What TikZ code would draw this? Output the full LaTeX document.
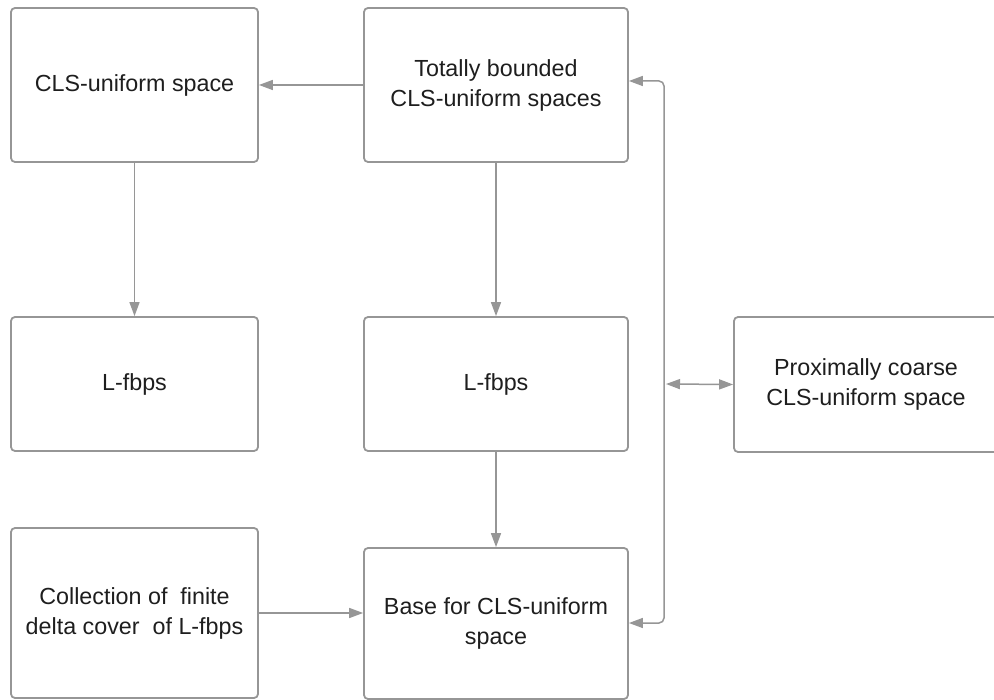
\documentclass[tikz,border=0pt]{standalone}
\usepackage{fontspec}
\setmainfont{Liberation Sans}
\usetikzlibrary{arrows.meta}
\definecolor{lineg}{RGB}{150,150,150}
\definecolor{txt}{RGB}{30,30,30}
\begin{document}
\begin{tikzpicture}[x=1pt,y=-1pt,
  >={Triangle[length=14pt,width=10pt]},
  box/.style={draw=lineg, line width=1.8pt, rounded corners=4pt, fill=white,
    align=center, text=txt, font=\fontsize{23.3}{30}\selectfont, inner sep=0pt},
  conn/.style={draw=lineg, line width=1.5pt, ->}]
\useasboundingbox (0,0) rectangle (994,700);
\clip (0,0) rectangle (994,700);
\fill[white] (0,0) rectangle (994,700);

\node[box, minimum width=247pt, minimum height=154pt] (A) at (134.5,85) {CLS-uniform space};
\node[box, minimum width=264pt, minimum height=154pt] (B) at (496,85) {Totally bounded\\CLS-uniform spaces};
\node[box, minimum width=247pt, minimum height=134pt] (C) at (134.5,384) {L-fbps};
\node[box, minimum width=264pt, minimum height=134pt] (D) at (496,384) {L-fbps};
\node[box, minimum width=264pt, minimum height=135pt] (E) at (866,384.5) {Proximally coarse\\CLS-uniform space};
\node[box, minimum width=247pt, minimum height=170pt] (F) at (134.5,613) {Collection of~~finite\\delta cover~~of L-fbps};
\node[box, minimum width=264pt, minimum height=151pt] (G) at (496,623.5) {Base for CLS-uniform\\space};

\coordinate (r1) at (664,81);
\coordinate (r2) at (664,623);
\coordinate (j) at (664,384);

\draw[conn] (B.west) -- (A.east);
\draw[conn] (A.south) -- (C.north);
\draw[conn] (B.south) -- (D.north);
\draw[conn] (D.south) -- (G.north);
\draw[conn] (F.east) -- (F.east -| G.west);
\draw[conn, <->, rounded corners=5pt] (B.east |- r1) -- (r1) -- (r2) -- (G.east |- r2);
\draw[conn, <->, shorten <=2pt] (j) -- (E.west);
\end{tikzpicture}
\end{document}
